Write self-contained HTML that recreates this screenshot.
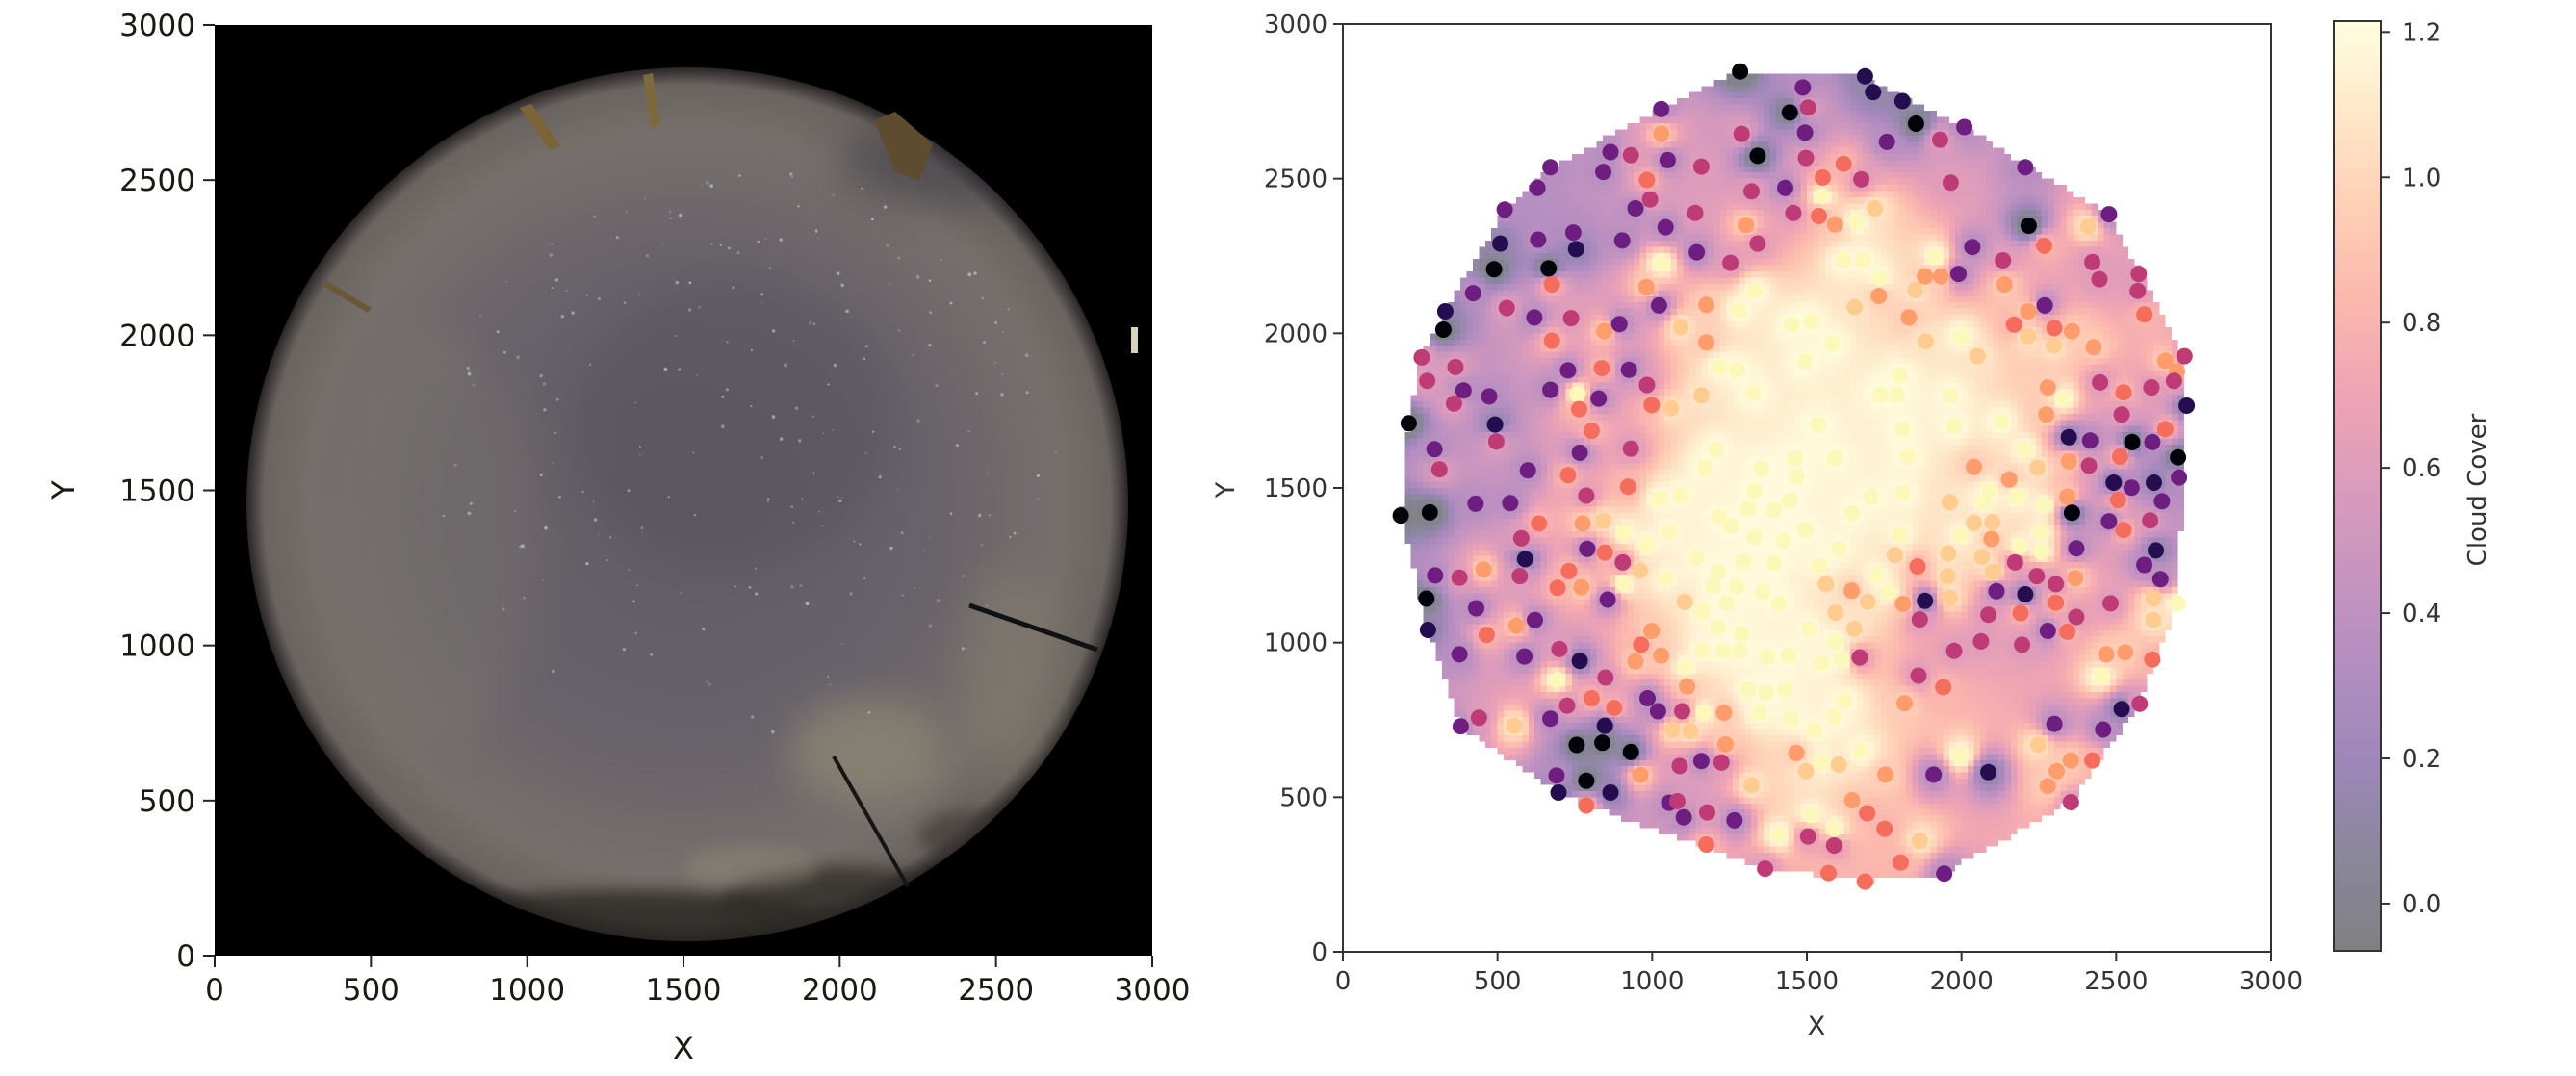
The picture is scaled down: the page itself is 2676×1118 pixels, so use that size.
<!DOCTYPE html>
<html><head><meta charset="utf-8"><title>Sky image and cloud cover</title>
<style>
html,body{margin:0;padding:0;background:#fff;}
#root{position:relative;width:2676px;height:1118px;overflow:hidden;background:#fff;}
#heat{position:absolute;left:1395px;top:25px;width:964px;height:964px;image-rendering:pixelated;z-index:0;}
#svg{position:absolute;left:0;top:0;z-index:1;}
text{font-family:"DejaVu Sans","Liberation Sans",sans-serif;}
</style></head>
<body>
<div id="root">
<canvas id="heat" width="150" height="150"></canvas>
<svg id="svg" width="2676" height="1118" xmlns="http://www.w3.org/2000/svg">
<defs>
<radialGradient id="skyGrad" cx="0.5" cy="0.5" r="0.5">
<stop offset="0" stop-color="#615b63"/>
<stop offset="0.55" stop-color="#68626a"/>
<stop offset="0.85" stop-color="#766f6c"/>
<stop offset="0.96" stop-color="#6a6460"/>
<stop offset="1" stop-color="#2a2626"/>
</radialGradient>
<filter id="blur20" x="-50%" y="-50%" width="200%" height="200%"><feGaussianBlur stdDeviation="20"/></filter>
<filter id="blur8" x="-50%" y="-50%" width="200%" height="200%"><feGaussianBlur stdDeviation="8"/></filter>
<clipPath id="skyClip"><ellipse cx="714" cy="524" rx="458" ry="454"/></clipPath>
<clipPath id="leftClip"><rect x="223" y="26" width="974" height="967"/></clipPath>
</defs>
<g id="leftPanel">
<rect x="223" y="26" width="974" height="967" fill="#000"/>
<g clip-path="url(#leftClip)">
<ellipse cx="714" cy="524" rx="458" ry="454" fill="url(#skyGrad)"/>
<g clip-path="url(#skyClip)">
<ellipse cx="760" cy="440" rx="170" ry="150" fill="#55505c" opacity="0.4" filter="url(#blur20)"/>
<ellipse cx="900" cy="780" rx="80" ry="55" fill="#8d8874" opacity="0.75" filter="url(#blur20)"/>
<ellipse cx="1050" cy="700" rx="50" ry="110" fill="#857f70" opacity="0.5" filter="url(#blur20)"/>
<ellipse cx="450" cy="560" rx="110" ry="220" fill="#7a746e" opacity="0.4" filter="url(#blur20)"/>
<ellipse cx="650" cy="965" rx="220" ry="40" fill="#2a2624" opacity="0.8" filter="url(#blur8)"/>
<ellipse cx="870" cy="935" rx="120" ry="35" fill="#2e2a28" opacity="0.75" filter="url(#blur8)"/>
<ellipse cx="1010" cy="870" rx="55" ry="28" fill="#3a3632" opacity="0.6" filter="url(#blur8)"/>
<ellipse cx="780" cy="900" rx="70" ry="22" fill="#8d8876" opacity="0.5" filter="url(#blur8)"/>
<ellipse cx="980" cy="170" rx="110" ry="45" fill="#3e3a44" opacity="0.5" filter="url(#blur20)"/>
</g>
<line x1="1007" y1="629" x2="1140" y2="675" stroke="#111" stroke-width="5"/>
<line x1="866" y1="786" x2="943" y2="921" stroke="#151515" stroke-width="4"/>
<polygon points="540,112 552,108 583,152 571,156" fill="#7a6438"/>
<polygon points="668,78 678,76 686,130 676,132" fill="#7d6a3c"/>
<polygon points="908,125 930,116 969,150 955,188 930,178" fill="#5e4c30"/>
<polygon points="334,296 340,292 386,320 382,325" fill="#6b5836"/>
<rect x="1175" y="340" width="7" height="27" fill="#d8d2c0"/>
<g id="stars"></g>
</g>
</g>
<g id="leftAxes"></g>
<g id="rightAxes"></g>
<g id="points"></g>
<g id="colorbar"></g>
</svg>
</div>
<script>
// ---- Right panel scatter data (data units, value = cloud cover) ----
const ptX=[1284,1445,1029,1289,1341,1029,865,931,1050,1159,671,842,983,629,1321,1430,993,946,1139,1456,523,1303,1043,745,631,903,1341,509,754,1144,1253,1029,489,665,676,981,421,1331,331,530,1175,1022,1279,325,619,738,894,845,1092,1451,676,1175,255,364,1217,1274,728,837,925,273,390,671,983,759,1159,1326,473,359,827,998,764,1061,213,492,804,496,296,766,931,1206,312,598,1170,1352,1461,728,
1688,1487,1714,1809,1504,1853,2009,1494,1759,1931,1497,1619,2206,1551,1676,1965,1549,2477,1539,1720,1591,1660,2217,2409,2267,2035,1619,1681,1915,2134,2423,2573,2446,1882,1934,1990,1736,2139,1851,2570,1733,1655,2269,2215,2591,1830,1515,2170,2300,2357,2215,1998,1582,1884,2298,2427,2052,1494,2721,2659,2697,2687,1801,2448,2614,2524,2279,1738,1792,1965,2326,2728,2518,2274,1536,1809,1976,2128,2659,2347,2416,2552,2617,2204,1591,1827,2700,2513,2347,2040,2246,2412,1466,
187,281,429,541,787,922,1022,1092,1331,1445,1393,1310,1217,1255,634,775,842,908,1055,1331,1425,577,981,790,847,589,905,1144,1295,1393,455,731,960,1213,298,377,572,1043,908,694,771,1196,1272,1357,270,856,1105,1241,1409,431,1162,621,561,1211,275,465,1289,998,964,700,1159,1230,1284,377,587,1029,1373,1440,946,766,1107,849,693,1113,1310,1367,1430,804,985,725,877,1019,1097,1165,1232,1345,1449,440,671,554,381,847,1066,1123,756,839,931,1237,1466,1159,1224,1089,962,691,787,1321,697,865,787,1055,1081,1102,1178,1266,1409,1175,1365,
2154,2492,2550,2622,2703,1707,1811,1962,2071,2090,2180,2267,2342,2506,2648,2357,1647,2477,2610,2040,2100,1494,2524,2258,1801,1998,2097,1605,2186,2258,2371,2628,1785,1957,2066,2591,1541,1858,2173,1728,1955,2102,2243,2305,2368,2643,1562,1764,1645,2113,2206,2620,2700,1882,1962,1697,1811,2305,2482,2191,2087,1865,2371,1593,2620,1508,1653,2279,2342,1591,2063,2196,1976,1546,1614,1671,2468,2529,2617,1861,2451,1941,1622,1816,2518,2576,1588,2300,2458,1525,2248,1676,1996,2354,2423,1546,1603,1497,1910,2087,1754,2308,2279,1647,2354,1695,1515,1751,1588,1504,1865,1588,1803,1570,1688,1944];
const ptY=[2847,2714,2725,2645,2574,2645,2586,2576,2560,2539,2537,2522,2496,2470,2459,2470,2433,2404,2389,2389,2400,2350,2343,2326,2303,2300,2290,2290,2272,2262,2228,2225,2207,2210,2158,2150,2130,2137,2071,2082,2092,2090,2077,2012,2051,2049,2030,2007,2020,2028,1976,1971,1922,1891,1891,1882,1880,1887,1882,1846,1815,1817,1833,1804,1799,1806,1796,1773,1789,1768,1755,1757,1709,1705,1685,1650,1625,1614,1627,1624,1560,1557,1565,1562,1596,1541,
2831,2795,2780,2751,2730,2678,2667,2649,2619,2626,2567,2548,2537,2504,2498,2487,2444,2385,2379,2404,2352,2363,2348,2345,2283,2279,2236,2236,2246,2236,2230,2192,2175,2184,2184,2192,2179,2158,2140,2137,2121,2085,2090,2071,2061,2051,2038,2028,2017,2007,1991,1991,1967,1974,1960,1955,1926,1908,1926,1911,1877,1846,1864,1841,1825,1809,1825,1801,1801,1799,1789,1766,1737,1737,1705,1690,1700,1714,1690,1664,1653,1648,1648,1624,1596,1601,1599,1601,1586,1568,1565,1572,1537,
1411,1421,1449,1451,1475,1504,1465,1475,1491,1459,1428,1433,1405,1376,1385,1385,1394,1355,1357,1340,1329,1337,1316,1303,1291,1270,1259,1274,1262,1257,1236,1231,1233,1229,1217,1210,1215,1207,1191,1177,1179,1184,1182,1163,1142,1139,1132,1127,1127,1111,1101,1073,1054,1049,1041,1025,1028,1038,993,979,976,973,973,962,955,958,955,958,939,941,921,887,879,858,848,837,848,820,820,796,789,778,778,773,773,773,752,757,754,731,729,731,718,713,669,676,646,671,643,617,612,601,572,570,553,539,515,515,473,482,487,435,451,425,378,347,269,
1527,1517,1501,1517,1534,1472,1485,1454,1454,1489,1472,1444,1472,1461,1457,1420,1418,1392,1395,1387,1389,1364,1364,1357,1350,1347,1335,1303,1312,1295,1305,1298,1283,1288,1277,1251,1249,1246,1259,1218,1215,1229,1215,1189,1208,1205,1189,1163,1168,1166,1156,1142,1127,1135,1145,1132,1125,1129,1127,1095,1090,1075,1083,1097,1073,1045,1045,1038,1035,1004,1004,993,973,934,945,952,962,968,945,893,891,856,812,804,785,802,761,737,719,716,669,648,633,619,619,612,605,584,573,581,573,584,536,490,484,448,442,398,398,373,359,344,289,255,227,253];
const ptV=[-0.05,-0.05,0.35,0.6,-0.05,0.95,0.35,0.6,0.35,0.6,0.35,0.35,0.82,0.35,0.6,0.35,0.6,0.35,0.6,0.6,0.35,0.95,0.35,0.35,0.35,0.35,0.6,0.12,0.12,0.35,0.6,1.2,-0.05,-0.05,0.82,0.95,0.35,1.2,0.12,0.6,0.95,0.35,1.2,-0.05,0.35,0.6,0.35,0.95,1.08,1.2,0.82,0.95,0.6,0.6,1.2,1.2,0.35,0.82,0.35,0.6,0.35,0.35,0.6,1.2,1.08,1.2,0.35,0.6,0.35,0.82,0.82,1.08,-0.05,0.12,0.82,0.6,0.35,0.35,0.6,1.2,0.6,0.35,1.2,1.2,1.2,0.82,
0.12,0.35,0.12,0.12,0.6,-0.05,0.35,0.35,0.35,0.6,0.6,0.82,0.35,0.82,0.6,0.6,1.2,0.35,0.82,1.08,0.95,1.2,-0.05,1.08,0.82,0.35,1.2,1.2,1.2,0.6,0.6,0.6,0.6,0.95,0.95,0.35,1.2,0.95,1.08,0.6,0.95,1.08,0.35,0.95,0.82,0.95,1.2,0.82,0.82,0.95,1.08,1.2,1.2,1.08,1.08,0.95,1.08,1.2,0.6,0.95,0.95,0.6,1.2,0.6,0.6,0.82,0.95,1.2,1.2,1.2,1.2,0.12,0.6,0.95,1.2,1.2,1.2,1.2,0.82,0.12,0.35,-0.05,0.35,1.2,1.2,1.2,-0.05,0.82,0.95,0.95,1.08,0.6,1.2,
-0.05,-0.05,0.35,0.35,0.6,0.82,1.2,1.2,1.2,1.2,1.2,1.2,1.2,1.2,0.82,0.95,1.08,1.2,1.2,1.2,1.2,0.6,1.2,0.35,0.82,0.12,0.6,1.2,1.2,1.2,0.95,0.82,1.08,1.2,0.35,0.6,0.6,1.2,1.2,0.82,0.95,1.2,1.2,1.2,-0.05,0.35,1.08,1.2,1.2,0.35,1.2,0.35,0.95,1.2,0.12,0.82,1.2,0.95,0.82,0.6,1.2,1.2,1.2,0.35,0.35,0.95,1.2,1.2,0.95,0.12,1.2,0.6,1.2,0.95,1.2,1.2,1.2,0.82,0.35,0.6,0.82,0.35,0.6,1.2,0.95,1.2,1.2,0.6,0.35,1.08,0.35,0.12,1.08,1.08,-0.05,-0.05,-0.05,0.95,0.95,0.35,0.6,0.6,0.95,0.35,-0.05,1.08,0.12,0.12,0.82,0.35,0.6,0.35,0.6,0.35,1.2,0.82,0.6,
0.95,0.12,0.35,0.12,0.35,1.2,1.2,1.08,1.2,1.2,1.2,1.2,0.95,0.82,0.35,-0.05,1.2,0.35,0.6,1.08,1.08,1.2,0.82,1.2,1.2,1.2,0.95,1.2,1.2,1.2,0.35,0.12,1.08,1.08,1.08,0.35,1.2,0.82,0.6,1.2,1.08,1.08,0.6,0.6,0.95,0.35,1.08,1.2,0.95,0.35,0.12,1.08,1.2,0.12,1.08,1.08,0.95,0.82,0.6,0.82,0.6,0.6,0.6,1.08,1.08,1.2,1.08,0.35,0.82,1.2,0.6,0.6,0.6,1.2,1.2,0.6,0.95,0.95,0.82,0.6,1.2,0.82,1.2,0.95,0.12,0.6,1.2,0.35,0.35,1.2,1.08,1.2,1.2,0.95,0.82,1.2,1.08,1.08,0.35,0.12,0.95,0.95,0.95,0.95,0.6,0.82,1.2,0.82,1.2,0.6,1.08,0.6,0.82,0.82,0.82,0.35];
// ---- Tick labels ----
const axisTicks=[0,500,1000,1500,2000,2500,3000];
const cbarTicks=[0.0,0.2,0.4,0.6,0.8,1.0,1.2];
const cbarMin=-0.065, cbarMax=1.215;

const NS="http://www.w3.org/2000/svg";
function mk(tag,attrs,parent){const e=document.createElementNS(NS,tag);for(const k in attrs)e.setAttribute(k,attrs[k]);if(parent)parent.appendChild(e);return e;}

const magmaStops=[[0,0,0,4],[0.1,20,14,54],[0.2,59,15,112],[0.3,100,26,128],[0.4,140,41,129],[0.5,183,55,121],[0.6,222,73,104],[0.7,247,112,92],[0.8,254,159,109],[0.9,254,207,146],[1,252,253,191]];
function magma(t){t=Math.max(0,Math.min(1,t));for(let i=1;i<magmaStops.length;i++){if(t<=magmaStops[i][0]){const a=magmaStops[i-1],b=magmaStops[i];const f=(t-a[0])/(b[0]-a[0]);return [a[1]+(b[1]-a[1])*f,a[2]+(b[2]-a[2])*f,a[3]+(b[3]-a[3])*f];}}return [252,253,191];}
function norm(v){return (v-cbarMin)/(cbarMax-cbarMin);}
function rgb(c){return "rgb("+c.map(Math.round).join(",")+")";}
function soft(c){return c.map(x=>x*0.5+127.5);}

// ---- Left panel axes ----
const L={x0:223,x1:1197,y0:993,y1:26};
const lx=v=>L.x0+v/3000*(L.x1-L.x0);
const ly=v=>L.y0-v/3000*(L.y0-L.y1);
const la=document.getElementById('leftAxes');
axisTicks.forEach(v=>{
  mk('line',{x1:lx(v),y1:L.y0,x2:lx(v),y2:L.y0+12,stroke:'#222','stroke-width':2},la);
  const t=mk('text',{x:lx(v),y:L.y0+46,'text-anchor':'middle','font-size':31,fill:'#1a1a10'},la);
  t.textContent=v;
  
  
  mk('line',{x1:L.x0-12,y1:ly(v),x2:L.x0,y2:ly(v),stroke:'#222','stroke-width':2},la);
  const u=mk('text',{x:L.x0-20,y:ly(v)+11,'text-anchor':'end','font-size':31,fill:'#1a1a10'},la);
  u.textContent=v;
  
  
});
const lxl=mk('text',{x:710,y:1100,'text-anchor':'middle','font-size':32,fill:'#1a1a10'},la);lxl.textContent='X';


const lyl=mk('text',{x:0,y:0,'text-anchor':'middle','font-size':32,fill:'#1a1a10',transform:'translate(77,509) rotate(-90)'},la);lyl.textContent='Y';



// stars (decoration)
const st=document.getElementById('stars');let seed=7;function rnd(){seed=(seed*16807)%2147483647;return seed/2147483647;}
for(let i=0;i<220;i++){const a=rnd()*6.283,r=Math.sqrt(rnd())*330;const sx=780+Math.cos(a)*r,sy=470+Math.sin(a)*r*0.9;
  mk('circle',{cx:sx.toFixed(1),cy:sy.toFixed(1),r:(0.7+rnd()*1.2).toFixed(1),fill:'#c8cbd8',opacity:(0.3+rnd()*0.4).toFixed(2)},st);}

// ---- Right panel ----
const R={x0:1395,x1:2359,y0:989,y1:25};
const rx=v=>R.x0+v/3000*(R.x1-R.x0);
const ry=v=>R.y0-v/3000*(R.y0-R.y1);
const ra=document.getElementById('rightAxes');
mk('rect',{x:R.x0,y:R.y1,width:R.x1-R.x0,height:R.y0-R.y1,fill:'none',stroke:'#333','stroke-width':2},ra);
axisTicks.forEach(v=>{
  mk('line',{x1:rx(v),y1:R.y0,x2:rx(v),y2:R.y0+10,stroke:'#333','stroke-width':2},ra);
  const t=mk('text',{x:rx(v),y:R.y0+39,'text-anchor':'middle','font-size':26,fill:'#333'},ra);
  t.textContent=v;
  
  
  mk('line',{x1:R.x0-10,y1:ry(v),x2:R.x0,y2:ry(v),stroke:'#333','stroke-width':2},ra);
  const u=mk('text',{x:R.x0-16,y:ry(v)+9,'text-anchor':'end','font-size':26,fill:'#333'},ra);
  u.textContent=v;
  
  
});
const rxl=mk('text',{x:1887,y:1075,'text-anchor':'middle','font-size':27,fill:'#333'},ra);rxl.textContent='X';


const ryl=mk('text',{x:0,y:0,'text-anchor':'middle','font-size':27,fill:'#333',transform:'translate(1282,509) rotate(-90)'},ra);ryl.textContent='Y';



// heatmap: IDW interpolation masked by convex hull
const n=Math.min(ptX.length,ptY.length,ptV.length);
const P=[];for(let i=0;i<n;i++)P.push([ptX[i],ptY[i],ptV[i]]);
function cross(o,a,b){return (a[0]-o[0])*(b[1]-o[1])-(a[1]-o[1])*(b[0]-o[0]);}
function hull(pts){const s=pts.slice().sort((a,b)=>a[0]-b[0]||a[1]-b[1]);const lo=[],up=[];
  for(const p of s){while(lo.length>=2&&cross(lo[lo.length-2],lo[lo.length-1],p)<=0)lo.pop();lo.push(p);}
  for(let i=s.length-1;i>=0;i--){const p=s[i];while(up.length>=2&&cross(up[up.length-2],up[up.length-1],p)<=0)up.pop();up.push(p);}
  up.pop();lo.pop();return lo.concat(up);}
const H=hull(P);
function inside(x,y){for(let i=0;i<H.length;i++){const a=H[i],b=H[(i+1)%H.length];if(cross(a,b,[x,y])<0)return false;}return true;}
const cv=document.getElementById('heat');const ctx=cv.getContext('2d');const G=150,cs=3000/G;
const img=ctx.createImageData(G,G);
for(let j=0;j<G;j++)for(let i=0;i<G;i++){
  const x=(i+0.5)*cs,y=3000-(j+0.5)*cs;const k=(j*G+i)*4;
  if(!inside(x,y)){img.data[k+3]=0;continue;}
  let sw=0,sv=0,hit=null;
  for(const p of P){const d2=(p[0]-x)*(p[0]-x)+(p[1]-y)*(p[1]-y);if(d2<1){hit=p[2];break;}const w=1/(d2*Math.sqrt(d2));sw+=w;sv+=w*p[2];}
  const v=hit!==null?hit:sv/sw;const c=soft(magma(norm(v)));
  img.data[k]=c[0];img.data[k+1]=c[1];img.data[k+2]=c[2];img.data[k+3]=255;}
ctx.putImageData(img,0,0);

// scatter points
const pg=document.getElementById('points');
for(let i=0;i<n;i++){
  const c=mk('circle',{cx:rx(ptX[i]).toFixed(1),cy:ry(ptY[i]).toFixed(1),r:8.5,fill:rgb(magma(norm(ptV[i])))},pg);
  
  
}

// colorbar
const CB={x0:2425,x1:2473,top:22,bot:988};
const cy=v=>CB.bot-(v-cbarMin)/(cbarMax-cbarMin)*(CB.bot-CB.top);
const cb=document.getElementById('colorbar');
const defs=document.querySelector('defs');
const lg=mk('linearGradient',{id:'cbGrad',x1:0,y1:1,x2:0,y2:0},defs);
for(let i=0;i<=20;i++){mk('stop',{offset:i/20,'stop-color':rgb(soft(magma(i/20)))},lg);}
mk('rect',{x:CB.x0,y:CB.top,width:CB.x1-CB.x0,height:CB.bot-CB.top,fill:'url(#cbGrad)',stroke:'#333','stroke-width':2},cb);
cbarTicks.forEach(v=>{
  mk('line',{x1:CB.x1,y1:cy(v),x2:CB.x1+10,y2:cy(v),stroke:'#333','stroke-width':2},cb);
  const t=mk('text',{x:CB.x1+22,y:cy(v)+9,'font-size':26,fill:'#333'},cb);
  t.textContent=v.toFixed(1);
  
  
});
const cl=mk('text',{x:0,y:0,'text-anchor':'middle','font-size':26,fill:'#333',transform:'translate(2582,509) rotate(-90)'},cb);cl.textContent='Cloud Cover';


</script>
</body></html>
